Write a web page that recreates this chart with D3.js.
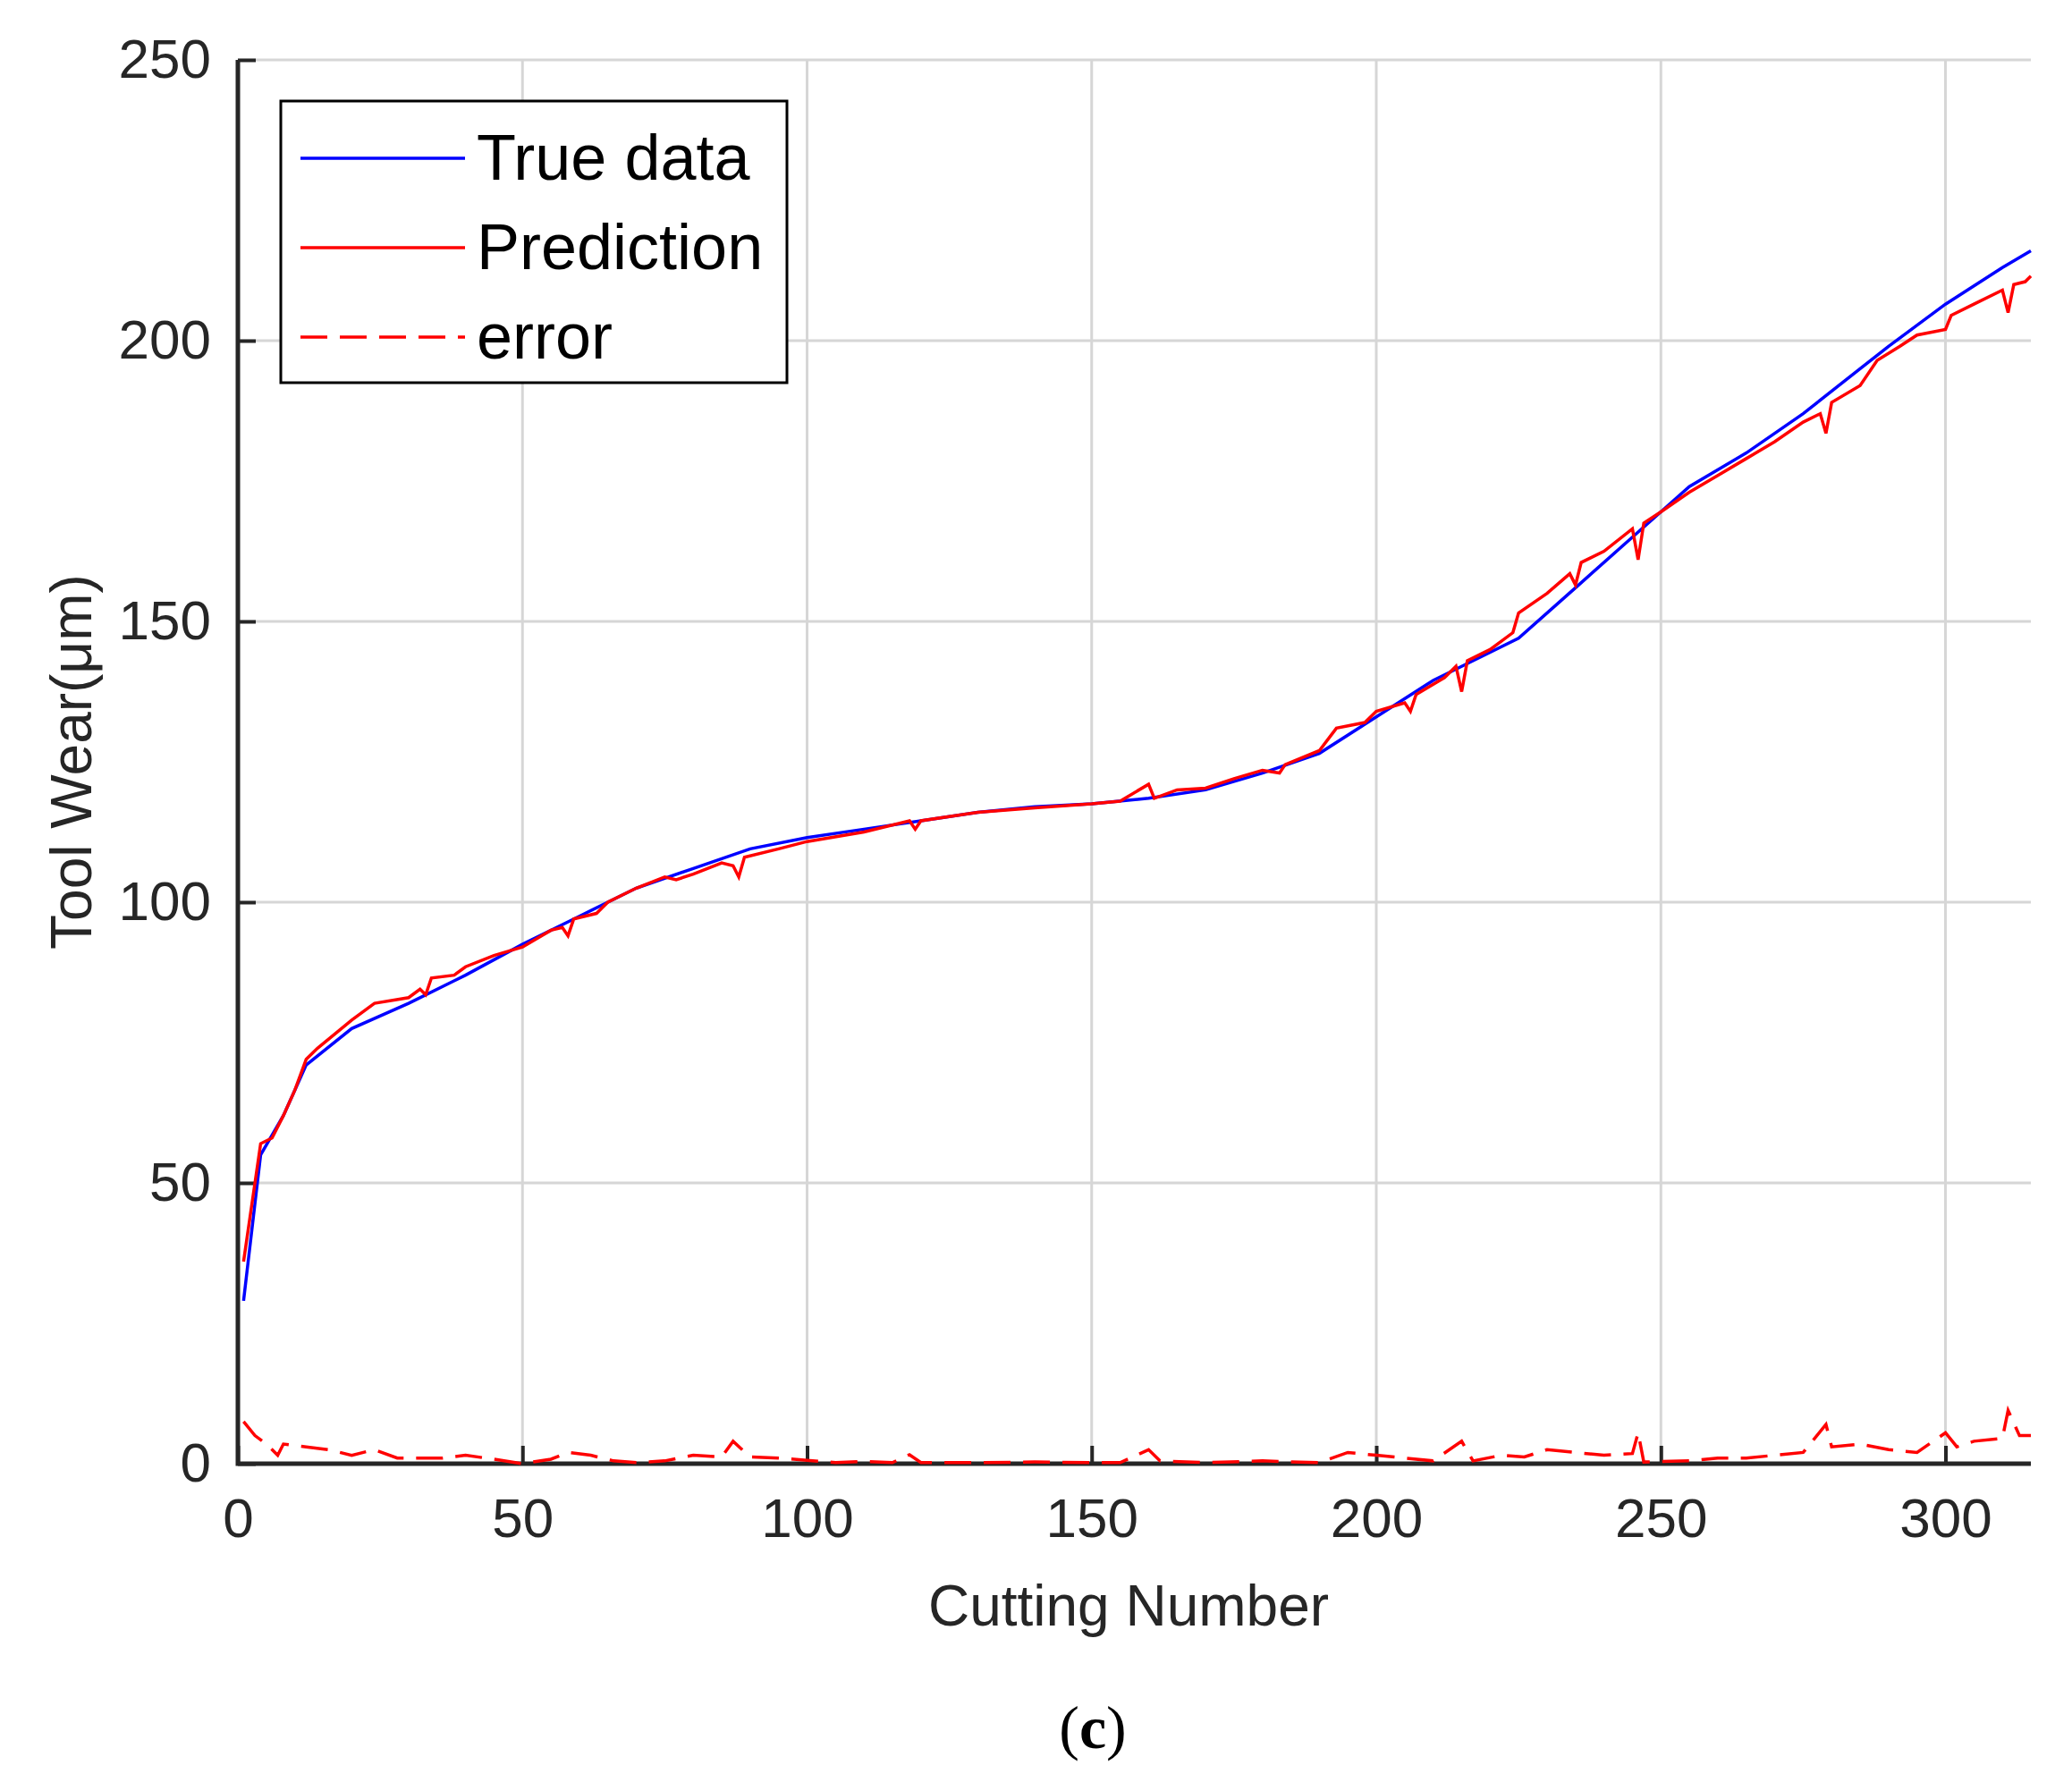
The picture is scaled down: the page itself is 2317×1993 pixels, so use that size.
<!DOCTYPE html>
<html><head><meta charset="utf-8">
<script src="https://cdn.jsdelivr.net/npm/d3@7"></script>
<style>body{margin:0;background:#fff}</style></head>
<body><svg id="chart" width="2317" height="1993"></svg>
<script>
const trueX = [1,4,8,12,20,30,40,50,60,65,70,80,90,100,110,120,130,140,150,160,170,180,190,200,210,215,225,235,245,255,265,275,285,290,300,310,315]
const trueY = [29,55,62,71,77.5,82,87,92.5,97.5,100,102.5,106,109.5,111.5,113,114.5,116,117,117.5,118.5,120,123,126.5,133,139.5,142,147,156,165,174,180,187,195,199,206.5,213,216]
const predX = [1,4,6,8,10,12,14,17,20,24,30,32,33,34,38,40,45,50,55,57,58,59,63,65,70,75,77,80,85,87,88,89,95,100,110,118,119,120,130,140,150,155,160,161,165,170,175,180,183,184,190,193,198,200,205,206,207,212,214,215,216,220,224,225,230,234,235,236,240,245,246,247,250,255,260,265,270,275,278,279,280,285,288,292,295,300,301,305,310,311,312,314,315]
const predY = [36,57,58,62,66.5,72,74,76.5,79,82,83,84.5,83.5,86.5,87,88.5,90.5,92,95,95.5,94,97,98,100,102.5,104.5,104,105,107,106.5,104.5,108,109.5,110.8,112.5,114.5,113,114.5,116,116.8,117.5,118,121,118.5,120,120.3,122,123.5,123,124.5,127,131,132,134,135.5,134,137,140,142,137.5,143,145,148,151.5,155,158.5,156.5,160.5,162.5,166.5,161,167.5,169.5,173,176,179,182,185.5,187,183.5,189,192,196.5,199,201,202,204.5,206.5,209,205,210,210.5,211.5]
const errX = [1,3,5,7,8,12,16,20,24,28,32,36,40,45,50,55,58,62,66,70,75,80,85,87,90,95,100,105,110,115,118,120,130,140,150,155,160,162,170,180,185,190,195,200,205,210,215,217,222,226,230,235,240,245,246,247,255,260,265,270,275,279,280,285,290,295,300,302,305,310,311,313,315]
const errY = [7.5,5,3.5,1.5,3.5,3,2.5,1.5,2.5,1,1,1,1.5,0.8,0,0.8,2,1.5,0.5,0.2,0.5,1.5,1.2,4,1.2,1,0.6,0.2,0.4,0.2,1.6,0.2,0.2,0.3,0.2,0.2,2.5,0.5,0.2,0.5,0.3,0.2,2,1.5,1,0.5,4,0.5,1.5,1.2,2.5,2,1.5,1.8,5.5,0.3,0.5,1,1,1.5,2,7,3,3.5,2.5,2,5.5,3,4,4.5,9.5,5,5]
const xTicks = [0,50,100,150,200,250,300]
const yTicks = [0,50,100,150,200,250]
const legendNames = ["True data","Prediction","error"]

const svg = d3.select("#chart")
const L = 266, R = 2271, T = 67, B = 1637
const x = d3.scaleLinear().domain([0,315]).range([L,R])
const y = d3.scaleLinear().domain([0,250]).range([B,T])
const font = "Arial, 'Liberation Sans', sans-serif"
const ink = "#262626"

// grid
svg.append("g").selectAll("line").data(xTicks.slice(1)).join("line")
    .attr("x1", d => x(d)).attr("x2", d => x(d)).attr("y1", T).attr("y2", B)
    .attr("stroke", "#d6d6d6").attr("stroke-width", 3)
svg.append("g").selectAll("line").data(yTicks.slice(1)).join("line")
    .attr("x1", L).attr("x2", R).attr("y1", d => y(d)).attr("y2", d => y(d))
    .attr("stroke", "#d6d6d6").attr("stroke-width", 3)

// axes
const xAxis = svg.append("g").attr("transform", `translate(0,${B})`)
    .call(d3.axisBottom(x).tickValues(xTicks).tickSize(-20).tickPadding(38))
const yAxis = svg.append("g").attr("transform", `translate(${L},0)`)
    .call(d3.axisLeft(y).tickValues(yTicks).tickSize(-20).tickPadding(30))
for (const a of [xAxis, yAxis]) {
    a.select(".domain").remove()
    a.selectAll("line").attr("stroke", ink).attr("stroke-width", 4)
    a.selectAll("text").attr("fill", ink).style("font-family", font).style("font-size", "62px")
}
svg.append("path").attr("d", `M${L},${T}V${B}H${R}`)
    .attr("fill", "none").attr("stroke", ink).attr("stroke-width", 5)

// lines
const line = d3.line().x(d => x(d[0])).y(d => y(d[1]))
svg.append("path").datum(d3.zip(trueX, trueY)).attr("d", line)
    .attr("fill", "none").attr("stroke", "#0000ff").attr("stroke-width", 3.5)
svg.append("path").datum(d3.zip(predX, predY)).attr("d", line)
    .attr("fill", "none").attr("stroke", "#ff0000").attr("stroke-width", 3.5)
svg.append("path").datum(d3.zip(errX, errY)).attr("d", line)
    .attr("fill", "none").attr("stroke", "#ff0000").attr("stroke-width", 3.5)
    .attr("stroke-dasharray", "30,14")

// labels
svg.append("text").attr("x", 1262).attr("y", 1818).attr("text-anchor", "middle")
    .attr("fill", ink).style("font-family", font).style("font-size", "64px").text("Cutting Number")
svg.append("text").attr("transform", `translate(102,${(T + B) / 2}) rotate(-90)`).attr("text-anchor", "middle")
    .attr("fill", ink).style("font-family", font).style("font-size", "64px").text("Tool Wear(μm)")
svg.append("text").attr("x", 1222).attr("y", 1955).attr("text-anchor", "middle")
    .style("font-family", "'Liberation Serif', 'DejaVu Serif', serif").style("font-size", "68px")
    .html("(<tspan font-weight='bold'>c</tspan>)")

// legend
const lg = svg.append("g")
lg.append("rect").attr("x", 314).attr("y", 113).attr("width", 566).attr("height", 315)
    .attr("fill", "#fff").attr("stroke", "#000").attr("stroke-width", 3)
const colors = ["#0000ff", "#ff0000", "#ff0000"]
legendNames.forEach((n, i) => {
    const cy = 177 + i * 100
    lg.append("line").attr("x1", 336).attr("x2", 520).attr("y1", cy).attr("y2", cy)
        .attr("stroke", colors[i]).attr("stroke-width", 3.5)
        .attr("stroke-dasharray", i === 2 ? "30,14" : null)
    lg.append("text").attr("x", 533).attr("y", cy + 24).attr("fill", "#000")
        .style("font-family", font).style("font-size", "72px").text(n)
})
</script></body></html>
